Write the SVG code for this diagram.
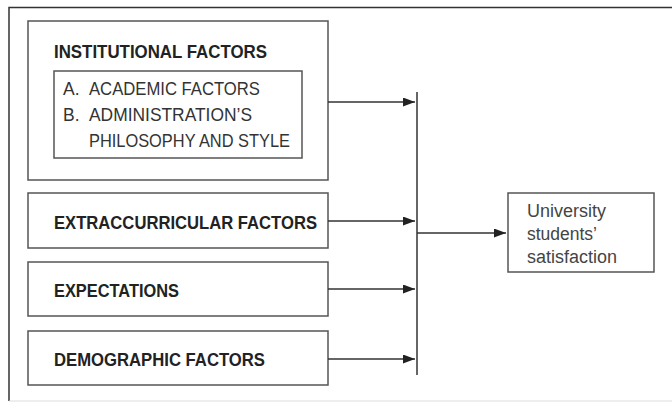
<svg xmlns="http://www.w3.org/2000/svg" width="672" height="402" viewBox="0 0 672 402">
<defs>
<style>
.box{fill:none;stroke:#555;stroke-width:1.5}
.hd{font-family:"Liberation Sans Narrow","Liberation Sans",Arial,sans-serif;font-weight:bold;font-size:19px;fill:#222}
.tx{font-family:"Liberation Sans Narrow","Liberation Sans",Arial,sans-serif;font-size:17.5px;fill:#333}
.out{font-family:"Liberation Sans Narrow","Liberation Sans",Arial,sans-serif;font-size:18px;fill:#444}
.ln{fill:none;stroke:#333;stroke-width:1.5}
</style>
<marker id="ah" markerWidth="12" markerHeight="9" refX="12" refY="4.5" orient="auto" markerUnits="userSpaceOnUse">
<path d="M0,0 L12,4.5 L0,9 Z" fill="#222"/>
</marker>
</defs>
<rect width="672" height="402" fill="#fff"/>
<g id="frame">
<path d="M9,401 V7.5 H672" fill="none" stroke="#333" stroke-width="1.5"/>
<line x1="9" y1="401" x2="672" y2="401" stroke="#ddd" stroke-width="1"/>
</g>
<g id="institutional">
<rect class="box" x="28" y="21" width="300" height="159"/>
<text class="hd" x="54" y="58" textLength="213" lengthAdjust="spacingAndGlyphs">INSTITUTIONAL FACTORS</text>
<rect class="box" x="54" y="71" width="248" height="87"/>
<text class="tx" x="63" y="95">A.</text>
<text class="tx" x="89" y="95" textLength="171" lengthAdjust="spacingAndGlyphs">ACADEMIC FACTORS</text>
<text class="tx" x="63" y="121">B.</text>
<text class="tx" x="89" y="121" textLength="163" lengthAdjust="spacingAndGlyphs">ADMINISTRATION’S</text>
<text class="tx" x="89" y="147" textLength="201" lengthAdjust="spacingAndGlyphs">PHILOSOPHY AND STYLE</text>
</g>
<g id="extracurricular">
<rect class="box" x="28" y="193" width="300" height="55"/>
<text class="hd" x="54" y="229" textLength="263" lengthAdjust="spacingAndGlyphs">EXTRACCURRICULAR FACTORS</text>
</g>
<g id="expectations">
<rect class="box" x="28" y="262" width="300" height="54"/>
<text class="hd" x="54" y="297" textLength="125" lengthAdjust="spacingAndGlyphs">EXPECTATIONS</text>
</g>
<g id="demographic">
<rect class="box" x="28" y="331" width="300" height="54"/>
<text class="hd" x="54" y="366" textLength="211" lengthAdjust="spacingAndGlyphs">DEMOGRAPHIC FACTORS</text>
</g>
<g id="satisfaction">
<rect class="box" x="508" y="193" width="146" height="79"/>
<text class="out" x="527" y="217" textLength="79" lengthAdjust="spacingAndGlyphs">University</text>
<text class="out" x="527" y="240" textLength="70" lengthAdjust="spacingAndGlyphs">students’</text>
<text class="out" x="527" y="263" textLength="90" lengthAdjust="spacingAndGlyphs">satisfaction</text>
</g>
<g id="connectors">
<line class="ln" x1="328" y1="102" x2="415" y2="102" marker-end="url(#ah)"/>
<line class="ln" x1="328" y1="221" x2="415" y2="221" marker-end="url(#ah)"/>
<line class="ln" x1="328" y1="289" x2="415" y2="289" marker-end="url(#ah)"/>
<line class="ln" x1="328" y1="359" x2="415" y2="359" marker-end="url(#ah)"/>
<line class="ln" x1="417" y1="92" x2="417" y2="375"/>
<line class="ln" x1="417" y1="233" x2="506" y2="233" marker-end="url(#ah)"/>
</g>
</svg>
